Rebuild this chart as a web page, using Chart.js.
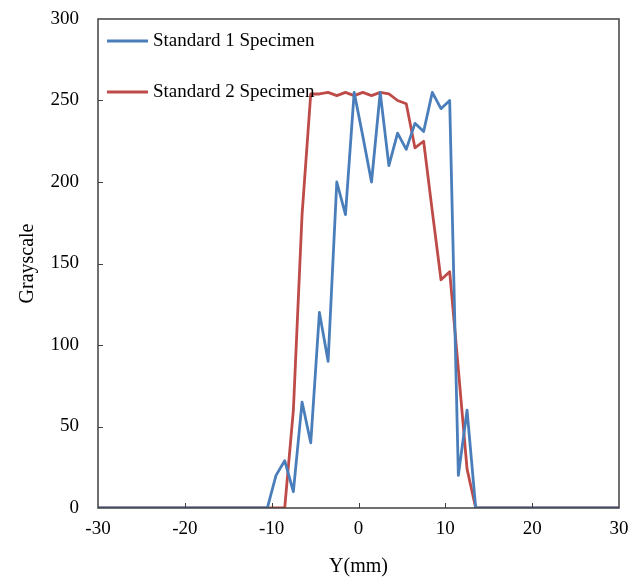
<!DOCTYPE html>
<html>
<head>
<meta charset="utf-8">
<script src="https://cdn.jsdelivr.net/npm/chart.js@4"></script>
<style>
  html, body { margin: 0; padding: 0; background: #fff; }
  #wrap { width: 639px; height: 580px; }
</style>
</head>
<body>
<div id="wrap"><canvas id="grayChart" width="639" height="580"></canvas></div>
<script>
// Standard 1 specimen (blue)
const std1X = [-30, -10.5, -9.5, -8.5, -7.5, -6.5, -5.5, -4.5, -3.5, -2.5, -1.5, -0.5, 0.5, 1.5, 2.5, 3.5, 4.5, 5.5, 6.5, 7.5, 8.5, 9.5, 10.5, 11.5, 12.5, 13.5, 30];
const std1Y = [0, 0, 20, 29, 10, 65, 40, 120, 90, 200, 180, 255, 228, 200, 255, 210, 230, 220, 236, 231, 255, 245, 250, 20, 60, 0, 0];
// Standard 2 specimen (red)
const std2X = [-30, -8.5, -7.5, -6.5, -5.5, -4.5, -3.5, -2.5, -1.5, -0.5, 0.5, 1.5, 2.5, 3.5, 4.5, 5.5, 6.5, 7.5, 8.5, 9.5, 10.5, 11.5, 12.5, 13.5, 30];
const std2Y = [0, 0, 60, 180, 254, 254, 255, 253, 255, 253, 255, 253, 255, 254, 250, 248, 221, 225, 182, 140, 145, 85, 24, 0, 0];

const labels = ['Standard 1 Specimen', 'Standard 2 Specimen'];
const colors = ['#4a7ebb', '#be4b48'];
const xTicks = [-30, -20, -10, 0, 10, 20, 30];
const yTicks = [0, 50, 100, 150, 200, 250, 300];

const serif = '"Liberation Serif", "Times New Roman", serif';

function toPoints(xs, ys) {
  return xs.map((x, i) => ({ x: x, y: ys[i] }));
}

// frame, inner tick marks and the legend inside the plot
const decor = {
  id: 'decor',
  afterDatasetsDraw(chart) {
    const ctx = chart.ctx;
    const a = chart.chartArea;
    const xs = chart.scales.x, ys = chart.scales.y;
    ctx.save();
    ctx.strokeStyle = '#404040';
    ctx.lineWidth = 1;
    xTicks.slice(1, -1).forEach(v => {
      const px = Math.round(xs.getPixelForValue(v)) + 0.5;
      ctx.beginPath(); ctx.moveTo(px, a.bottom); ctx.lineTo(px, a.bottom - 5); ctx.stroke();
    });
    yTicks.slice(1, -1).forEach(v => {
      const py = Math.round(ys.getPixelForValue(v)) + 0.5;
      ctx.beginPath(); ctx.moveTo(a.left, py); ctx.lineTo(a.left + 5, py); ctx.stroke();
    });
    ctx.lineWidth = 1.5;
    ctx.strokeRect(a.left, a.top, a.right - a.left, a.bottom - a.top);

    // legend
    ctx.font = '19px ' + serif;
    ctx.textBaseline = 'middle';
    ctx.fillStyle = '#000';
    labels.forEach((lab, i) => {
      const y = a.top + 22 + i * 51;
      ctx.strokeStyle = colors[i];
      ctx.lineWidth = 3;
      ctx.beginPath(); ctx.moveTo(a.left + 9, y); ctx.lineTo(a.left + 50, y); ctx.stroke();
      ctx.fillText(lab, a.left + 55, y);
    });
    ctx.restore();
  }
};

new Chart(document.getElementById('grayChart'), {
  type: 'scatter',
  data: {
    datasets: [
      { label: labels[0], data: toPoints(std1X, std1Y), showLine: true, borderColor: colors[0], borderWidth: 2.8, borderJoinStyle: 'round', pointRadius: 0, tension: 0 },
      { label: labels[1], data: toPoints(std2X, std2Y), showLine: true, borderColor: colors[1], borderWidth: 2.8, borderJoinStyle: 'round', pointRadius: 0, tension: 0 }
    ]
  },
  options: {
    responsive: false,
    animation: false,
    layout: { padding: { top: 19, right: 20, left: 0, bottom: 0 } },
    plugins: { legend: { display: false }, tooltip: { enabled: false } },
    scales: {
      x: {
        type: 'linear', min: -30, max: 30,
        afterBuildTicks: s => { s.ticks = xTicks.map(v => ({ value: v })); },
        afterFit: s => { s.height = 72; s.paddingLeft = 0; s.paddingRight = 0; },
        grid: { display: false, drawTicks: false },
        border: { display: false },
        ticks: { color: '#000', padding: 10, maxRotation: 0, font: { family: serif, size: 19 } },
        title: { display: true, text: 'Y(mm)', color: '#000', padding: { top: 7, bottom: 1 }, font: { family: serif, size: 20 } }
      },
      y: {
        type: 'linear', min: 0, max: 300,
        afterBuildTicks: s => { s.ticks = yTicks.map(v => ({ value: v })); },
        afterFit: s => { s.width = 98; s.paddingTop = 0; s.paddingBottom = 0; },
        grid: { display: false, drawTicks: false },
        border: { display: false },
        ticks: { color: '#000', padding: 19, font: { family: serif, size: 19 } },
        title: { display: true, text: 'Grayscale', color: '#000', padding: { top: 16, bottom: 0 }, font: { family: serif, size: 20 } }
      }
    }
  },
  plugins: [decor]
});
</script>
</body>
</html>
